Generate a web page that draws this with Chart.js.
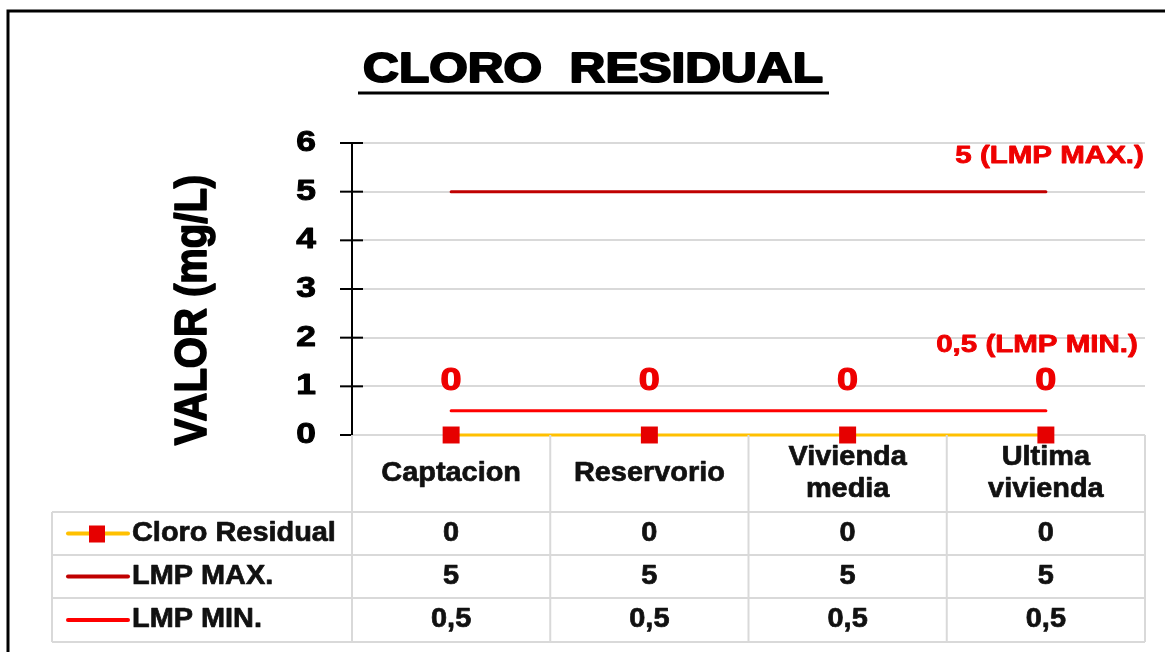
<!DOCTYPE html>
<html>
<head>
<meta charset="utf-8">
<script src="https://cdn.jsdelivr.net/npm/chart.js@4.4.1/dist/chart.umd.min.js"></script>
<style>
  body { margin: 0; background: #fff; }
  #wrap { width: 1165px; height: 652px; }
</style>
</head>
<body>
<div id="wrap"><canvas id="chart"></canvas></div>
<script>
const categories = [['Captacion'], ['Reservorio'], ['Vivienda', 'media'], ['Ultima', 'vivienda']];
const cloroValues = [0, 0, 0, 0];
const maxValues = [5, 5, 5, 5];
const minValues = [0.5, 0.5, 0.5, 0.5];
const yTicks = [0, 1, 2, 3, 4, 5, 6];

const seriesNames = ['Cloro Residual', 'LMP MAX.', 'LMP MIN.'];
const seriesColors = ['#ffc000', '#c00000', '#ff0000'];
const markerColor = '#e60000';
const labelRed = '#ee0000';

const ctx = document.getElementById('chart');
ctx.width = 1165;
ctx.height = 652;

// text widened horizontally (and a bit heavier) like the source picture
function wideText(c, text, x, y, font, color, align, sx, heavy) {
  c.save();
  c.translate(x, y);
  c.scale(sx, 1);
  c.font = font;
  c.fillStyle = color;
  c.textAlign = align;
  c.textBaseline = 'middle';
  c.fillText(text, 0, 0);
  if (heavy) {
    c.strokeStyle = color;
    c.lineWidth = heavy;
    c.lineJoin = 'round';
    c.strokeText(text, 0, 0);
  }
  c.restore();
}

function fmt(v) {
  return String(v).replace('.', ',');
}

const decor = {
  id: 'decor',
  afterDraw(chart) {
    const c = chart.ctx;
    const area = chart.chartArea;
    const ys = chart.scales.y;
    const xs = chart.scales.x;
    const bold = 'bold ';
    const fam = ' "Liberation Sans", Arial, sans-serif';

    // frame
    c.save();
    c.strokeStyle = '#000';
    c.lineWidth = 3;
    c.strokeRect(8, 11, 1170, 700);
    c.restore();

    // title
    wideText(c, 'CLORO  RESIDUAL', 593, 70, bold + '42px' + fam, '#000', 'center', 1.18, 2);
    c.save();
    c.strokeStyle = '#000';
    c.lineWidth = 3;
    c.beginPath();
    c.moveTo(358, 93);
    c.lineTo(829, 93);
    c.stroke();
    c.restore();

    // y axis title
    c.save();
    c.translate(194, 310);
    c.scale(1.12, 1);
    c.rotate(-Math.PI / 2);
    c.font = bold + '40px' + fam;
    c.fillStyle = '#000';
    c.strokeStyle = '#000';
    c.lineWidth = 1.5;
    c.lineJoin = 'round';
    c.textAlign = 'center';
    c.textBaseline = 'middle';
    c.fillText('VALOR (mg/L)', 0, 0);
    c.strokeText('VALOR (mg/L)', 0, 0);
    c.restore();

    // y ticks and their labels
    c.save();
    c.strokeStyle = '#000';
    c.lineWidth = 2;
    yTicks.forEach(t => {
      const py = ys.getPixelForValue(t);
      c.beginPath();
      c.moveTo(area.left - 12, py);
      c.lineTo(t === 0 ? area.left : area.left + 11, py);
      c.stroke();
      wideText(c, String(t), 316, py, bold + '29px' + fam, '#000', 'right', 1.22, 1);
    });
    c.restore();

    // data labels
    const m0 = chart.getDatasetMeta(0).data;
    m0.forEach(p => {
      wideText(c, '0', p.x, p.y - 54, bold + '32px' + fam, labelRed, 'center', 1.18, 1.2);
    });
    const mMax = chart.getDatasetMeta(1).data;
    const lastMax = mMax[mMax.length - 1];
    wideText(c, maxValues[maxValues.length - 1] + ' (LMP MAX.)', lastMax.x + 98, lastMax.y - 35,
      bold + '24px' + fam, labelRed, 'right', 1.23, 0.8);
    const mMin = chart.getDatasetMeta(2).data;
    const lastMin = mMin[mMin.length - 1];
    wideText(c, fmt(minValues[minValues.length - 1]) + ' (LMP MIN.)', lastMin.x + 92, lastMin.y - 65,
      bold + '24px' + fam, labelRed, 'right', 1.23, 0.8);

    // data table
    const rowsY = [512, 555, 598, 642];
    const colW = (area.right - area.left) / categories.length;
    c.save();
    c.strokeStyle = '#d9d9d9';
    c.lineWidth = 2;
    for (let i = 0; i <= categories.length; i++) {
      const x = area.left + i * colW;
      c.beginPath();
      c.moveTo(x, area.bottom);
      c.lineTo(x, rowsY[3]);
      c.stroke();
    }
    c.beginPath();
    c.moveTo(52, rowsY[0]);
    c.lineTo(52, rowsY[3]);
    c.stroke();
    rowsY.forEach(y => {
      c.beginPath();
      c.moveTo(52, y);
      c.lineTo(area.right, y);
      c.stroke();
    });
    c.restore();

    const tf = bold + '27px' + fam;
    categories.forEach((lines, i) => {
      const cx = xs.getPixelForValue(i);
      const mid = (area.bottom + rowsY[0]) / 2;
      lines.forEach((ln, k) => {
        const ly = mid + (k - (lines.length - 1) / 2) * 32;
        wideText(c, ln, cx, ly, tf, '#111', 'center', 1.07, 0.7);
      });
    });

    const tableData = [cloroValues, maxValues, minValues];
    tableData.forEach((vals, r) => {
      const cy = (rowsY[r] + rowsY[r + 1]) / 2;
      vals.forEach((v, i) => {
        wideText(c, fmt(v), xs.getPixelForValue(i), cy, tf, '#111', 'center', 1.07, 0.7);
      });
      // legend key
      c.save();
      c.strokeStyle = seriesColors[r];
      c.lineWidth = 4;
      c.lineCap = 'round';
      c.beginPath();
      c.moveTo(68, cy);
      c.lineTo(128, cy);
      c.stroke();
      if (r === 0) {
        c.fillStyle = markerColor;
        c.fillRect(89, cy - 8, 16, 17);
      }
      c.restore();
      wideText(c, seriesNames[r], 132, cy, tf, '#111', 'left', 1.07, 0.7);
    });
  }
};

const chart = new Chart(ctx, {
  type: 'line',
  data: {
    labels: categories,
    datasets: [
      {
        label: seriesNames[0],
        data: cloroValues,
        borderColor: seriesColors[0],
        borderWidth: 3,
        pointStyle: 'rect',
        pointRadius: 12,
        pointBackgroundColor: markerColor,
        pointBorderColor: markerColor,
        pointBorderWidth: 0,
        clip: false
      },
      {
        label: seriesNames[1],
        data: maxValues,
        borderColor: seriesColors[1],
        borderWidth: 3,
        borderCapStyle: 'round',
        pointRadius: 0,
        clip: false
      },
      {
        label: seriesNames[2],
        data: minValues,
        borderColor: seriesColors[2],
        borderWidth: 3,
        borderCapStyle: 'round',
        pointRadius: 0,
        clip: false
      }
    ]
  },
  options: {
    responsive: false,
    maintainAspectRatio: false,
    animation: false,
    events: [],
    layout: { padding: { left: 0, top: 143, right: 20, bottom: 217 } },
    plugins: {
      legend: { display: false },
      title: { display: false },
      tooltip: { enabled: false }
    },
    scales: {
      x: {
        display: false,
        offset: true
      },
      y: {
        min: 0,
        max: 6,
        ticks: { stepSize: 1, display: false },
        grid: { color: '#d9d9d9', lineWidth: 2, drawTicks: false },
        border: { display: true, color: '#000', width: 2 },
        afterFit(scale) { scale.width = 352; }
      }
    }
  },
  plugins: [decor]
});
</script>
</body>
</html>
